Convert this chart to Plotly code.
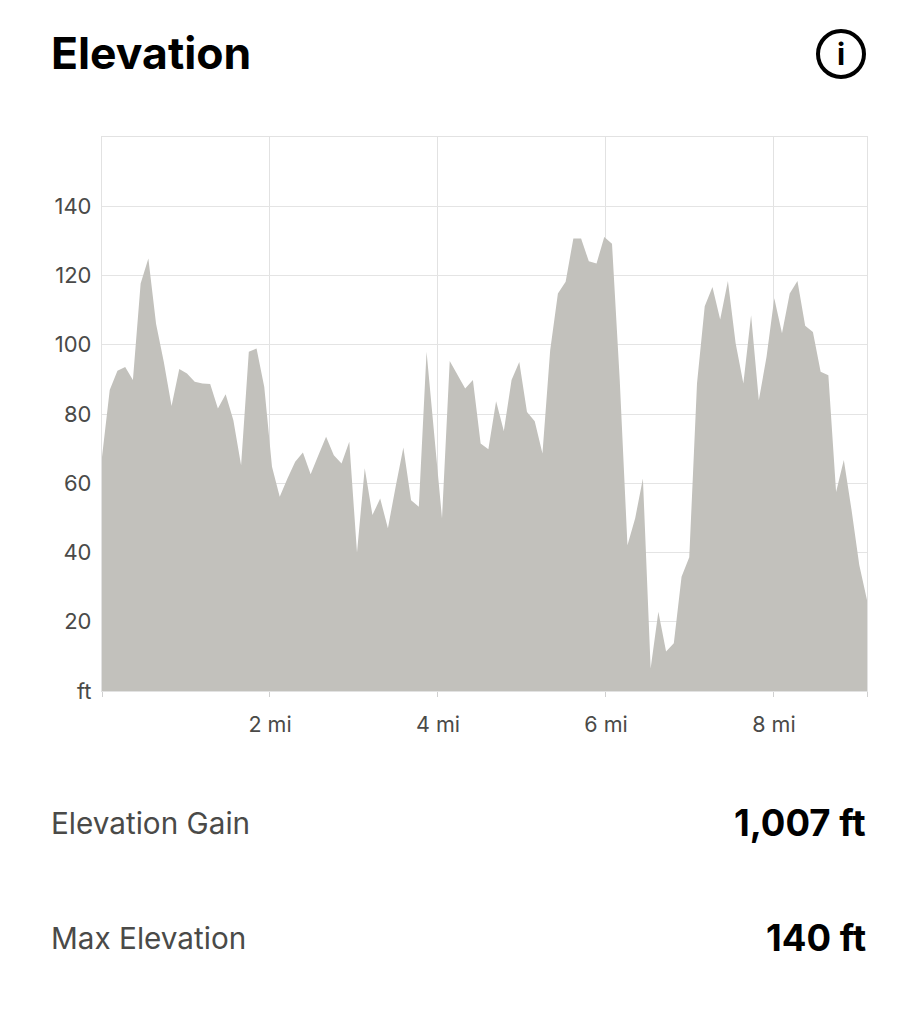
import plotly.graph_objects as go

miles = [0, 0.092, 0.184, 0.276, 0.368, 0.46, 0.552, 0.644, 0.736, 0.828,
         0.92, 1.012, 1.104, 1.196, 1.288, 1.38, 1.472, 1.564, 1.656, 1.748,
         1.84, 1.932, 2.024, 2.116, 2.208, 2.3, 2.392, 2.484, 2.576, 2.668,
         2.76, 2.852, 2.944, 3.036, 3.128, 3.22, 3.312, 3.404, 3.496, 3.588,
         3.68, 3.772, 3.864, 3.956, 4.048, 4.14, 4.232, 4.324, 4.416, 4.508,
         4.6, 4.692, 4.784, 4.876, 4.968, 5.06, 5.152, 5.244, 5.336, 5.428,
         5.52, 5.612, 5.704, 5.796, 5.888, 5.98, 6.072, 6.164, 6.256, 6.348,
         6.44, 6.532, 6.624, 6.716, 6.808, 6.9, 6.992, 7.084, 7.176, 7.268,
         7.36, 7.452, 7.544, 7.636, 7.728, 7.82, 7.912, 8.004, 8.096, 8.188,
         8.28, 8.372, 8.464, 8.556, 8.648, 8.74, 8.832, 8.924, 9.016, 9.108]
elevation = [67.6, 86.9, 92.5, 93.6, 89.8, 117.7, 124.9, 106, 95, 82.3,
             93, 91.7, 89.3, 88.8, 88.7, 81.6, 85.7, 78.2, 65.2, 98,
             98.9, 87.8, 64.8, 56.1, 61.4, 66.2, 68.9, 62.6, 68.1, 73.4,
             68.1, 65.7, 72, 40, 64.3, 50.8, 55.6, 47, 59, 70.3,
             55.1, 53.2, 98, 73.9, 49.9, 95.3, 91.2, 87.4, 89.8, 71.5,
             69.8, 83.7, 75.1, 89.8, 95, 80.6, 77.9, 68.6, 98.4, 114.8,
             118.2, 130.7, 130.7, 124.1, 123.5, 131.1, 129.2, 89.8, 42.1, 49.9,
             61.4, 6.5, 22.9, 11.4, 13.8, 33, 38.6, 88.8, 111.1, 116.7,
             107.3, 118.4, 100.4, 88.8, 108.5, 84, 96.5, 113.4, 103.3, 114.8,
             118.4, 105.5, 103.7, 92.2, 91.2, 57.5, 66.7, 52.3, 36.4, 26.3]
y_ticks = [0, 20, 40, 60, 80, 100, 120, 140]
y_labels = ["ft", "20", "40", "60", "80", "100", "120", "140"]
x_ticks = [0, 2, 4, 6, 8, 9.108]
x_labels = ["", "2 mi", "4 mi", "6 mi", "8 mi", ""]
title = "Elevation"
stats = [("Elevation Gain", "1,007 ft", 823), ("Max Elevation", "140 ft", 938)]

W, H = 918, 1024
L, R, T, B = 102, 867, 137, 691
FONT = "Inter"
GREY = "#4a4a48"


def px(x):
    return (x - L) / (R - L)


def py(y):
    return (B - y) / (B - T)


fig = go.Figure(go.Scatter(
    x=miles, y=elevation, mode="lines", fill="tozeroy",
    fillcolor="#c2c1bc", line=dict(width=0, color="#c2c1bc"), hoverinfo="skip",
))

ann = [dict(x=px(49), y=py(53), text=f"<b>{title}</b>", xanchor="left",
            font=dict(size=44.5, color="#000000")),
       dict(x=px(841), y=py(54), text="<b>i</b>", xanchor="center",
            font=dict(size=30, color="#000000"))]
for label, val, yy in stats:
    ann.append(dict(x=px(49), y=py(yy), text=label, xanchor="left",
                    font=dict(size=29.7, color=GREY)))
    ann.append(dict(x=px(868), y=py(yy), text=f"<b>{val}</b>", xanchor="right",
                    font=dict(size=36.5, color="#000000")))
for a in ann:
    a.update(xref="paper", yref="paper", yanchor="middle", showarrow=False)

fig.update_layout(
    width=W, height=H, margin=dict(l=L, r=W - R, t=T, b=H - B),
    paper_bgcolor="white", plot_bgcolor="white", showlegend=False,
    font=dict(family=FONT), annotations=ann,
    shapes=[dict(type="circle", xref="paper", yref="paper",
                 x0=px(818), x1=px(864), y0=py(77), y1=py(31),
                 line=dict(color="#000000", width=4))],
    xaxis=dict(range=[0, 9.108], tickvals=x_ticks, ticktext=x_labels,
               showgrid=True, gridcolor="#e2e2e2", gridwidth=1.2, showline=True,
               linecolor="#e2e2e2", linewidth=1.2, mirror=True, ticks="outside",
               ticklen=5, tickcolor="#d0d0d0", tickwidth=1.2, zeroline=False,
               tickfont=dict(size=21.5, color=GREY), ticklabelstandoff=9),
    yaxis=dict(range=[0, 160], tickvals=y_ticks, ticktext=y_labels,
               showgrid=True, gridcolor="#e4e4e4", gridwidth=1.2, showline=True,
               linecolor="#e2e2e2", linewidth=1.2, mirror=True, ticks="",
               zeroline=False, tickfont=dict(size=22, color=GREY),
               ticklabelstandoff=5),
)
fig.write_html("out.html", post_script="document.body.style.margin='0';",
               config={"displayModeBar": False})
